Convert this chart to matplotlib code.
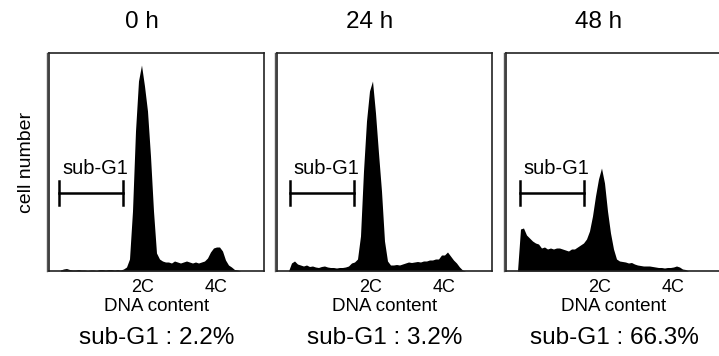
import numpy as np
import matplotlib
matplotlib.use("Agg")
import matplotlib.pyplot as plt
from matplotlib.transforms import ScaledTranslation

plt.rcParams['font.family'] = ['Liberation Sans', 'DejaVu Sans']

# histogram channel grid (3-channel bins, first bin centre at 11.5)
chan = 11.5 + 3 * np.arange(61)

counts_0h = [1, 2, 2.5, 1.5, 1, 1, 1.5, 1, 1, 0.5, 1, 1, 0.5, 1.5, 1.5, 1, 1.5, 1.5, 1, 1.5,
             1, 2, 4, 12, 60, 140, 190, 206, 185, 160, 115, 60, 18, 12, 10, 9, 9, 8, 10, 9,
             8, 9, 10, 9, 8, 9, 8, 9, 10, 13, 19, 23, 24, 24, 20, 11, 6, 4, 1.5, 1, 0]
counts_24h = [0, 8, 10, 7, 6, 5, 6, 4.5, 5, 4, 3.5, 4.5, 5, 4, 3.5, 3.5, 3, 3.5, 3.5, 4,
              5, 8, 9, 12, 35, 100, 150, 180, 190, 158, 118, 80, 30, 10, 6, 6, 6.5, 6, 7, 8,
              9, 8.5, 9, 9.5, 9, 10, 10, 11, 11, 12, 12, 16, 16, 19, 15, 11, 8, 4, 1, 0, 0]
counts_48h = [0, 42, 43, 36, 33, 30, 28, 27, 23, 24, 22, 23, 22, 23, 23, 22, 21, 20, 22, 22,
              24, 26, 28, 32, 40, 55, 75, 92, 103, 88, 60, 38, 22, 12, 10, 9.5, 9, 8, 8.5, 7,
              6, 5.5, 5, 5, 5, 4.5, 4, 3.5, 3.5, 3, 3.5, 3.5, 4, 5, 4, 2, 1.5, 0, 0, 0, 0]

titles = ["0 h", "24 h", "48 h"]
subg1_pct = ["2.2%", "3.2%", "66.3%"]
tick_pos = [94, 167]
tick_labels = ["2C", "4C"]
gate = [(10, 74), (13, 77), (14, 78)]

data = [counts_0h, counts_24h, counts_48h]
lefts = [49, 277, 506]

W, H = 719, 356
fig = plt.figure(figsize=(W / 100, H / 100), dpi=100)

for k in range(3):
    ax = fig.add_axes([lefts[k] / W, 85 / H, 215 / W, 218 / H])
    ax.fill_between(chan, 0, data[k], color='black', lw=0)
    ax.set_xlim(0, 215)
    ax.set_ylim(0, 218)
    ax.set_yticks([])
    ax.set_xticks(tick_pos)
    ax.set_xticklabels(tick_labels, fontsize=13)
    ax.tick_params(axis='x', length=0, pad=5.5)
    ax.set_xlabel("DNA content", fontsize=13.5, labelpad=1.5)
    for s in ax.spines.values():
        s.set_linewidth(1.2)
        s.set_color('#222222')
    # double line on the left edge
    off = ScaledTranslation(-2.5 / 100, 0, fig.dpi_scale_trans)
    ax.plot([0, 0], [0, 1], transform=ax.transAxes + off, color='#555555',
            lw=1.0, clip_on=False)
    # sub-G1 gate
    g0, g1 = gate[k]
    ax.plot([g0, g1], [78, 78], color='black', lw=1.8)
    ax.plot([g0, g0], [66, 90], color='black', lw=1.8)
    ax.plot([g1, g1], [66, 90], color='black', lw=1.8)
    ax.text(g0 + 3, 103, "sub-G1", fontsize=14.5, ha='left', va='center')
    ax.text(93, 249, titles[k], fontsize=17.5, ha='center', va='center', clip_on=False)
    ax.text(108, -67, "sub-G1 : " + subg1_pct[k], fontsize=17.5, ha='center',
            va='center', clip_on=False)
    if k == 0:
        ax.set_ylabel("cell number", fontsize=14, labelpad=10)

fig.savefig("out.png", dpi=100)
